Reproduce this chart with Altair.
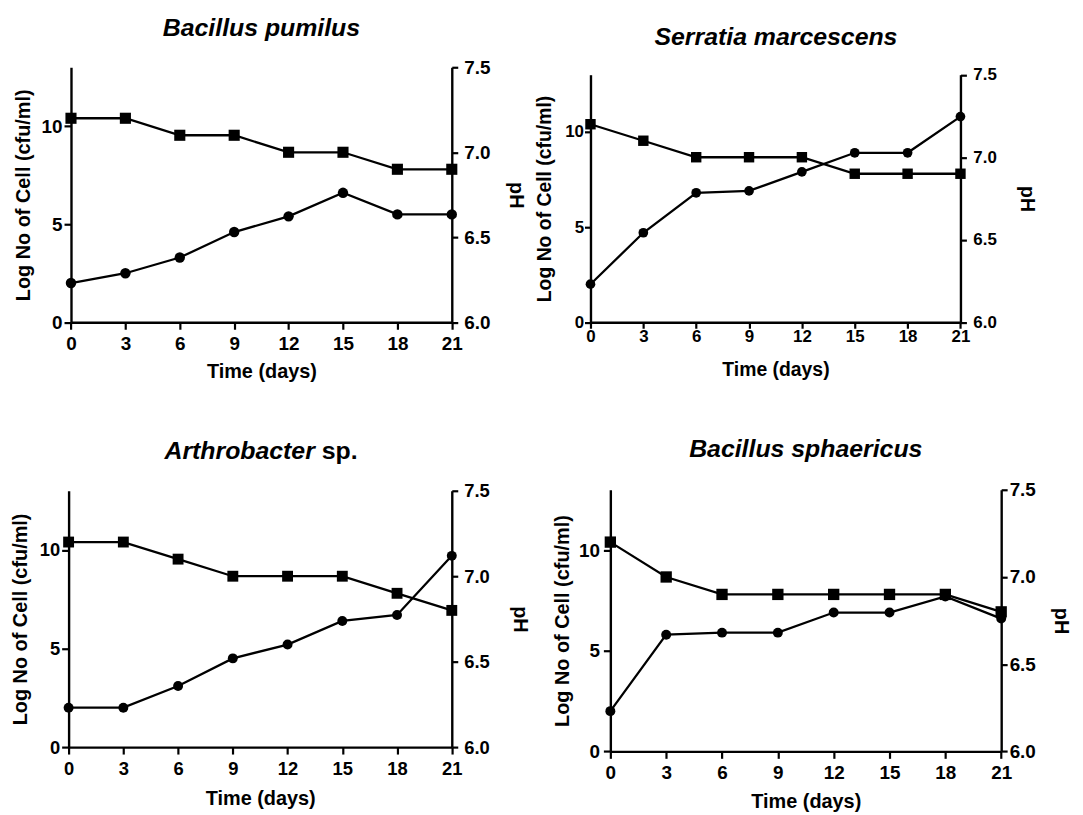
import altair as alt
import pandas as pd

# ---------------- data ----------------
days = [0, 3, 6, 9, 12, 15, 18, 21]

log_pumilus = [2.0, 2.5, 3.3, 4.6, 5.4, 6.6, 5.5, 5.5]
ph_pumilus = [7.2, 7.2, 7.1, 7.1, 7.0, 7.0, 6.9, 6.9]

log_serratia = [2.0, 4.7, 6.8, 6.9, 7.9, 8.9, 8.9, 10.8]
ph_serratia = [7.2, 7.1, 7.0, 7.0, 7.0, 6.9, 6.9, 6.9]

log_arthro = [2.0, 2.0, 3.1, 4.5, 5.2, 6.4, 6.7, 9.7]
ph_arthro = [7.2, 7.2, 7.1, 7.0, 7.0, 7.0, 6.9, 6.8]

log_sphaer = [2.0, 5.8, 5.9, 5.9, 6.9, 6.9, 7.7, 6.6]
ph_sphaer = [7.2, 7.0, 6.9, 6.9, 6.9, 6.9, 6.9, 6.8]

title_italic = ["Bacillus pumilus", "Serratia marcescens", "Arthrobacter", "Bacillus sphaericus"]
title_plain = ["", "", "sp.", ""]

x_ticks = [0, 3, 6, 9, 12, 15, 18, 21]
log_ticks = [0, 5, 10]
ph_ticks = [6.0, 6.5, 7.0, 7.5]

x_title = "Time (days)"
left_title = "Log No of Cell (cfu/ml)"
right_title = "pH"

# ---------------- layout / style ----------------
FONT = "Liberation Sans"
TITLE_SIZE = 25

layouts = [
    dict(W=385.7, H=256.7, xa=2.4, ya=0.0, lab=19, ttl=20, tick=7, llp=2, blp=5, rlp=6,
         lt=-48.0, rt=64.0, bt=49.3, cx=194.1, ty=-31.0, cs=110, ss=125),
    dict(W=372.4, H=256.7, xa=0.0, ya=7.5, lab=17, ttl=19.5, tick=6, llp=1, blp=0, rlp=6.5,
         lt=-46.3, rt=66.3, bt=47.3, cx=186.7, ty=-22.3, cs=95, ss=110),
    dict(W=385.7, H=259.0, xa=0.0, ya=1.0, lab=18.5, ttl=20, tick=7, llp=2, blp=6, rlp=6,
         lt=-48.3, rt=67.7, bt=52.0, cx=193.7, ty=-30.7, cs=100, ss=120),
    dict(W=413.4, H=263.3, xa=20.0, ya=0.0, lab=19, ttl=20, tick=7, llp=4, blp=5, rlp=2,
         lt=-48.3, rt=60.0, bt=50.7, cx=216.7, ty=-33.5, cs=100, ss=130),
]

common_axis = dict(
    grid=False, domainColor="black", domainWidth=2.4, tickColor="black", tickWidth=2.2,
    labelFont=FONT, labelFontWeight="bold", labelColor="black",
    labelFlush=False, labelOverlap=False,
    titleFont=FONT, titleFontWeight="bold", titleColor="black",
    titleAlign="center", titleBaseline="middle",
)


def panel(log_vals, ph_vals, t_it, t_pl, L):
    df = pd.DataFrame({"day": days, "log": log_vals, "ph": ph_vals})
    W, H, xa, ya = L["W"], L["H"], L["xa"], L["ya"]

    xs = alt.Scale(domain=[0, 21], nice=False, zero=False, range=[xa, W])
    xaxis = alt.Axis(values=x_ticks, title=x_title, orient="bottom", tickSize=L["tick"],
                     labelFontSize=L["lab"], labelPadding=L["blp"], titleFontSize=L["ttl"],
                     titleX=(xa + W) / 2, titleY=L["bt"], titleAngle=0, **common_axis)
    lax = alt.Axis(values=log_ticks, title=left_title, orient="left", offset=-xa,
                   tickSize=L["tick"], labelFontSize=L["lab"], labelPadding=L["llp"],
                   titleFontSize=L["ttl"], titleX=L["lt"], titleY=(ya + H) / 2,
                   titleAngle=270, **common_axis)
    rax = alt.Axis(values=ph_ticks, format=".1f", title=right_title, orient="right",
                   tickSize=6, labelFontSize=L["lab"], labelPadding=L["rlp"],
                   titleFontSize=L["ttl"], titleX=L["rt"], titleY=(ya + H) / 2,
                   titleAngle=90, **common_axis)

    base = alt.Chart(df)
    log_line = base.mark_line(
        color="black", strokeWidth=2.3,
        point=alt.OverlayMarkDef(shape="circle", size=L["cs"], filled=True, color="black", opacity=1),
    ).encode(
        x=alt.X("day:Q", scale=xs, axis=xaxis),
        y=alt.Y("log:Q", scale=alt.Scale(domain=[0, 13], nice=False, zero=True, range=[H, ya]), axis=lax),
    )
    ph_line = base.mark_line(
        color="black", strokeWidth=2.3,
        point=alt.OverlayMarkDef(shape="square", size=L["ss"], filled=True, color="black", opacity=1),
    ).encode(
        x=alt.X("day:Q", scale=xs, axis=xaxis),
        y=alt.Y("ph:Q", scale=alt.Scale(domain=[6.0, 7.5], nice=False, zero=False, range=[H, ya]), axis=rax),
    )

    layers = [log_line, ph_line]
    if t_pl:
        w_it = 6.056 * TITLE_SIZE
        w_sp = 0.278 * TITLE_SIZE
        w_pl = 1.445 * TITLE_SIZE
        start = L["cx"] - (w_it + w_sp + w_pl) / 2
        split = start + w_it
        layers.append(
            alt.Chart(pd.DataFrame({"t": [t_it]})).mark_text(
                font=FONT, fontSize=TITLE_SIZE, fontWeight="bold", fontStyle="italic",
                align="right", baseline="alphabetic", color="black",
            ).encode(x=alt.value(split), y=alt.value(L["ty"]), text="t:N")
        )
        layers.append(
            alt.Chart(pd.DataFrame({"t": [t_pl]})).mark_text(
                font=FONT, fontSize=TITLE_SIZE, fontWeight="bold",
                align="left", baseline="alphabetic", color="black",
            ).encode(x=alt.value(split + w_sp), y=alt.value(L["ty"]), text="t:N")
        )
    else:
        layers.append(
            alt.Chart(pd.DataFrame({"t": [t_it]})).mark_text(
                font=FONT, fontSize=TITLE_SIZE, fontWeight="bold", fontStyle="italic",
                align="center", baseline="alphabetic", color="black",
            ).encode(x=alt.value(L["cx"]), y=alt.value(L["ty"]), text="t:N")
        )

    return alt.layer(*layers).resolve_scale(y="independent").properties(width=W, height=H)


panels = [
    panel(log_pumilus, ph_pumilus, title_italic[0], title_plain[0], layouts[0]),
    panel(log_serratia, ph_serratia, title_italic[1], title_plain[1], layouts[1]),
    panel(log_arthro, ph_arthro, title_italic[2], title_plain[2], layouts[2]),
    panel(log_sphaer, ph_sphaer, title_italic[3], title_plain[3], layouts[3]),
]

chart = alt.concat(
    *panels, columns=2, spacing={"row": 168.3, "column": 139.3}, bounds="flush"
).properties(
    padding={"left": 2, "top": 6, "right": 4, "bottom": 0}, background="white"
).configure_view(strokeWidth=0)

chart.save("out.html", embed_options={"renderer": "svg", "actions": False})
